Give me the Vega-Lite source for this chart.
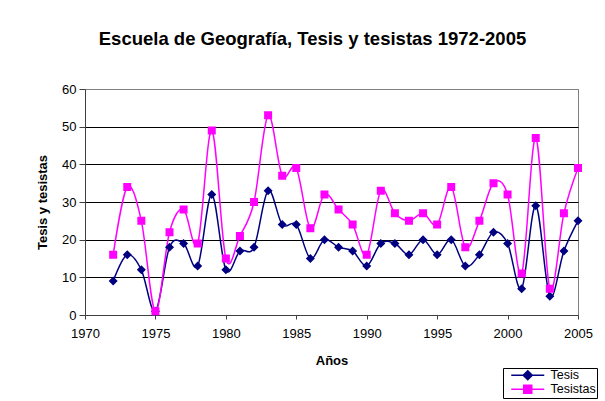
{
  "$schema": "https://vega.github.io/schema/vega-lite/v6.json",
  "width": 493,
  "height": 226,
  "autosize": {"type": "none"},
  "padding": {"left": 85, "top": 89, "right": 27, "bottom": 86},
  "background": "white",
  "title": {
    "text": "Escuela de Geografía, Tesis y tesistas 1972-2005",
    "font": "Liberation Sans",
    "fontSize": 18.5,
    "fontWeight": "bold",
    "color": "black",
    "anchor": "middle",
    "offset": 35,
    "dx": -19
  },
  "config": {
    "font": "Liberation Sans",
    "view": {"stroke": "#808080", "strokeWidth": 1}
  },
  "data": {
    "values": [
      {"year": 1972, "serie": "Tesis", "value": 9}, {"year": 1972, "serie": "Tesistas", "value": 16},
      {"year": 1973, "serie": "Tesis", "value": 16}, {"year": 1973, "serie": "Tesistas", "value": 34},
      {"year": 1974, "serie": "Tesis", "value": 12}, {"year": 1974, "serie": "Tesistas", "value": 25},
      {"year": 1975, "serie": "Tesis", "value": 1}, {"year": 1975, "serie": "Tesistas", "value": 1},
      {"year": 1976, "serie": "Tesis", "value": 18}, {"year": 1976, "serie": "Tesistas", "value": 22},
      {"year": 1977, "serie": "Tesis", "value": 19}, {"year": 1977, "serie": "Tesistas", "value": 28},
      {"year": 1978, "serie": "Tesis", "value": 13}, {"year": 1978, "serie": "Tesistas", "value": 19},
      {"year": 1979, "serie": "Tesis", "value": 32}, {"year": 1979, "serie": "Tesistas", "value": 49},
      {"year": 1980, "serie": "Tesis", "value": 12}, {"year": 1980, "serie": "Tesistas", "value": 15},
      {"year": 1981, "serie": "Tesis", "value": 17}, {"year": 1981, "serie": "Tesistas", "value": 21},
      {"year": 1982, "serie": "Tesis", "value": 18}, {"year": 1982, "serie": "Tesistas", "value": 30},
      {"year": 1983, "serie": "Tesis", "value": 33}, {"year": 1983, "serie": "Tesistas", "value": 53},
      {"year": 1984, "serie": "Tesis", "value": 24}, {"year": 1984, "serie": "Tesistas", "value": 37},
      {"year": 1985, "serie": "Tesis", "value": 24}, {"year": 1985, "serie": "Tesistas", "value": 39},
      {"year": 1986, "serie": "Tesis", "value": 15}, {"year": 1986, "serie": "Tesistas", "value": 23},
      {"year": 1987, "serie": "Tesis", "value": 20}, {"year": 1987, "serie": "Tesistas", "value": 32},
      {"year": 1988, "serie": "Tesis", "value": 18}, {"year": 1988, "serie": "Tesistas", "value": 28},
      {"year": 1989, "serie": "Tesis", "value": 17}, {"year": 1989, "serie": "Tesistas", "value": 24},
      {"year": 1990, "serie": "Tesis", "value": 13}, {"year": 1990, "serie": "Tesistas", "value": 16},
      {"year": 1991, "serie": "Tesis", "value": 19}, {"year": 1991, "serie": "Tesistas", "value": 33},
      {"year": 1992, "serie": "Tesis", "value": 19}, {"year": 1992, "serie": "Tesistas", "value": 27},
      {"year": 1993, "serie": "Tesis", "value": 16}, {"year": 1993, "serie": "Tesistas", "value": 25},
      {"year": 1994, "serie": "Tesis", "value": 20}, {"year": 1994, "serie": "Tesistas", "value": 27},
      {"year": 1995, "serie": "Tesis", "value": 16}, {"year": 1995, "serie": "Tesistas", "value": 24},
      {"year": 1996, "serie": "Tesis", "value": 20}, {"year": 1996, "serie": "Tesistas", "value": 34},
      {"year": 1997, "serie": "Tesis", "value": 13}, {"year": 1997, "serie": "Tesistas", "value": 18},
      {"year": 1998, "serie": "Tesis", "value": 16}, {"year": 1998, "serie": "Tesistas", "value": 25},
      {"year": 1999, "serie": "Tesis", "value": 22}, {"year": 1999, "serie": "Tesistas", "value": 35},
      {"year": 2000, "serie": "Tesis", "value": 19}, {"year": 2000, "serie": "Tesistas", "value": 32},
      {"year": 2001, "serie": "Tesis", "value": 7}, {"year": 2001, "serie": "Tesistas", "value": 11},
      {"year": 2002, "serie": "Tesis", "value": 29}, {"year": 2002, "serie": "Tesistas", "value": 47},
      {"year": 2003, "serie": "Tesis", "value": 5}, {"year": 2003, "serie": "Tesistas", "value": 7},
      {"year": 2004, "serie": "Tesis", "value": 17}, {"year": 2004, "serie": "Tesistas", "value": 27},
      {"year": 2005, "serie": "Tesis", "value": 25}, {"year": 2005, "serie": "Tesistas", "value": 39}
    ]
  },
  "encoding": {
    "x": {
      "field": "year",
      "type": "quantitative",
      "scale": {"domain": [1970, 2005], "nice": false, "zero": false},
      "axis": {
        "title": "Años",
        "titleFont": "Liberation Sans",
        "titleFontSize": 13,
        "titleFontWeight": "bold",
        "titleColor": "black",
        "titlePadding": 14,
        "values": [1970, 1975, 1980, 1985, 1990, 1995, 2000, 2005],
        "format": "d",
        "labelFlush": false,
        "labelFontSize": 13,
        "labelColor": "black",
        "labelPadding": 8,
        "tickSize": 4,
        "tickColor": "#404040",
        "domainColor": "#404040",
        "grid": false
      }
    },
    "y": {
      "field": "value",
      "type": "quantitative",
      "scale": {"domain": [0, 60], "nice": false},
      "axis": {
        "title": "Tesis y tesistas",
        "titleFont": "Liberation Sans",
        "titleFontSize": 13,
        "titleFontWeight": "bold",
        "titleColor": "black",
        "titlePadding": 12,
        "values": [0, 10, 20, 30, 40, 50, 60],
        "labelFlush": false,
        "labelFontSize": 13,
        "labelColor": "black",
        "labelPadding": 3,
        "tickSize": 6,
        "tickColor": "#404040",
        "domainColor": "#404040",
        "grid": true,
        "gridColor": {"condition": {"test": "datum.value === 60 || datum.value === 0", "value": "#808080"}, "value": "black"},
        "gridWidth": 1,
        "gridOpacity": 1
      }
    },
    "color": {
      "field": "serie",
      "type": "nominal",
      "scale": {"domain": ["Tesis", "Tesistas"], "range": ["#000080", "#FF00FF"]},
      "legend": {
        "title": null,
        "orient": "none",
        "legendX": 418,
        "legendY": 279,
        "strokeColor": "black",
        "fillColor": "white",
        "padding": 1,
        "labelFont": "Liberation Sans",
        "labelFontSize": 12.5,
        "labelColor": "black",
        "labelBaseline": "middle",
        "symbolSize": 100,
        "symbolOffset": 17.5,
        "labelOffset": 16.5,
        "symbolStrokeWidth": 1.5,
        "rowPadding": -3,
        "encode": {
          "symbols": {
            "update": {
              "stroke": {"scale": "color", "field": "value"},
              "fill": {"scale": "color", "field": "value"},
              "strokeWidth": {"value": 1.5}
            }
          }
        }
      }
    }
  },
  "layer": [
    {
      "mark": {"type": "line", "interpolate": "cardinal", "tension": 0, "strokeWidth": 1.5}
    },
    {
      "mark": {"type": "point", "filled": true, "opacity": 1, "size": 100, "strokeWidth": 0},
      "encoding": {
        "shape": {
          "field": "serie",
          "type": "nominal",
          "scale": {
            "domain": ["Tesis", "Tesistas"],
            "range": ["M-3.3,0H3.3M0,-0.9L0.9,0L0,0.9L-0.9,0Z", "M-3.3,0H3.3M-0.8,-0.8H0.8V0.8H-0.8Z"]
          }
        }
      }
    }
  ]
}
